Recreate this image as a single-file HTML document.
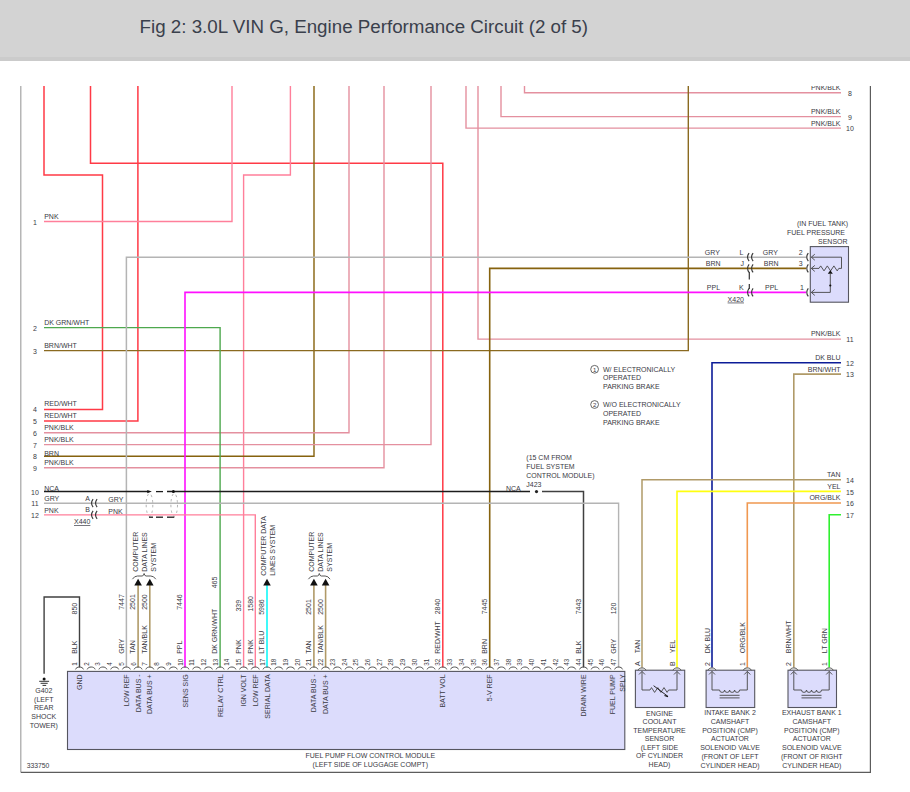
<!DOCTYPE html>
<html><head><meta charset="utf-8"><style>
html,body{margin:0;padding:0;background:#fff;width:910px;height:792px;overflow:hidden}
#hdr{position:absolute;left:0;top:0;width:910px;height:61px;background:linear-gradient(#d3d3d3 0,#d3d3d3 57.3px,#cbcbcb 57.3px,#cbcbcb 61px);z-index:2}
#ttl{position:absolute;left:139.6px;top:15.5px;font-family:"Liberation Sans",sans-serif;font-size:18.76px;color:#3a404c;white-space:nowrap}
svg{position:absolute;left:0;top:0}
svg text{font-family:"Liberation Sans",sans-serif}
</style></head><body>
<div id="hdr"><div id="ttl">Fig 2: 3.0L VIN G, Engine Performance Circuit (2 of 5)</div></div>
<svg width="910" height="792" viewBox="0 0 910 792">
<polyline points="20.8,85.5 20.8,772.3" fill="none" stroke="#a4a4a4" stroke-width="1.2" />
<polyline points="20.8,772.3 870.4,772.3 870.4,85.5" fill="none" stroke="#5c5c5c" stroke-width="1.2" />
<polyline points="44.0,85.5 44.0,175.0 102.5,175.0 102.5,409.4 44.0,409.4" fill="none" stroke="#ff3a46" stroke-width="1.5" />
<polyline points="90.5,85.5 90.5,163.3 442.8,163.3 442.8,667.5" fill="none" stroke="#ff3a46" stroke-width="1.5" />
<polyline points="137.9,85.5 137.9,421.0 44.0,421.0" fill="none" stroke="#ff3a46" stroke-width="1.5" />
<polyline points="232.0,85.5 232.0,221.5 44.0,221.5" fill="none" stroke="#ff7f9a" stroke-width="1.4" />
<polyline points="290.4,85.5 290.4,175.0 243.6,175.0 243.6,667.5" fill="none" stroke="#ff7f9a" stroke-width="1.4" />
<polyline points="314.0,85.5 314.0,456.3 44.0,456.3" fill="none" stroke="#86620e" stroke-width="1.4" />
<polyline points="349.0,85.5 349.0,432.7 44.0,432.7" fill="none" stroke="#e4909f" stroke-width="1.4" />
<polyline points="384.0,85.5 384.0,467.8 44.0,467.8" fill="none" stroke="#e4909f" stroke-width="1.4" />
<polyline points="431.0,85.5 431.0,444.6 44.0,444.6" fill="none" stroke="#e4909f" stroke-width="1.4" />
<polyline points="466.0,85.5 466.0,128.1 841.0,128.1" fill="none" stroke="#e4909f" stroke-width="1.4" />
<polyline points="478.0,85.5 478.0,339.1 841.0,339.1" fill="none" stroke="#e4909f" stroke-width="1.4" />
<polyline points="501.0,85.5 501.0,116.6 841.0,116.6" fill="none" stroke="#e4909f" stroke-width="1.4" />
<polyline points="524.5,85.5 524.5,92.8 841.0,92.8" fill="none" stroke="#e4909f" stroke-width="1.4" />
<polyline points="688.3,85.5 688.3,350.6 44.0,350.6" fill="none" stroke="#8a6a20" stroke-width="1.4" />
<polyline points="44.0,327.6 220.1,327.6 220.1,667.5" fill="none" stroke="#4ea84e" stroke-width="1.4" />
<polyline points="806.0,257.2 126.4,257.2 126.4,667.5" fill="none" stroke="#b4b4b4" stroke-width="1.5" />
<polyline points="806.0,268.4 489.7,268.4 489.7,667.5" fill="none" stroke="#86620e" stroke-width="1.6" />
<polyline points="806.0,292.4 185.0,292.4 185.0,667.5" fill="none" stroke="#ff10ff" stroke-width="1.6" />
<polyline points="841.0,362.7 712.0,362.7 712.0,667.5" fill="none" stroke="#0c1c98" stroke-width="1.6" />
<polyline points="841.0,374.1 793.8,374.1 793.8,667.5" fill="none" stroke="#b09a68" stroke-width="1.6" />
<polyline points="841.0,479.8 642.0,479.8 642.0,667.5" fill="none" stroke="#b09a68" stroke-width="1.5" />
<polyline points="841.0,491.4 677.0,491.4 677.0,667.5" fill="none" stroke="#ffff10" stroke-width="1.6" />
<polyline points="841.0,503.0 747.3,503.0 747.3,667.5" fill="none" stroke="#f09850" stroke-width="1.6" />
<polyline points="841.0,514.7 829.2,514.7 829.2,667.5" fill="none" stroke="#30f030" stroke-width="1.6" />
<polyline points="44.0,491.6 148.0,491.6" fill="none" stroke="#1c1c1c" stroke-width="1.5" />
<polyline points="167.0,491.6 530.0,491.6" fill="none" stroke="#1c1c1c" stroke-width="1.5" />
<polyline points="542.0,491.6 583.5,491.6 583.5,667.5" fill="none" stroke="#404040" stroke-width="1.5" />
<circle cx="536.5" cy="491.6" r="1.6" fill="#222"/>
<polyline points="44.0,503.2 618.6,503.2 618.6,667.5" fill="none" stroke="#b4b4b4" stroke-width="1.4" />
<polyline points="44.0,514.9 255.3,514.9 255.3,667.5" fill="none" stroke="#ff7f9a" stroke-width="1.4" />
<polyline points="138.1,584.0 138.1,667.5" fill="none" stroke="#b09a68" stroke-width="1.6" />
<polyline points="149.8,584.0 149.8,667.5" fill="none" stroke="#b09a68" stroke-width="1.6" />
<polyline points="313.9,584.0 313.9,667.5" fill="none" stroke="#b09a68" stroke-width="1.6" />
<polyline points="325.6,584.0 325.6,667.5" fill="none" stroke="#b09a68" stroke-width="1.6" />
<polyline points="267.0,584.0 267.0,667.5" fill="none" stroke="#10f8f8" stroke-width="1.6" />
<polyline points="44.1,673.7 44.1,597.0 79.5,597.0 79.5,667.5" fill="none" stroke="#404040" stroke-width="1.4" />
<text x="44.2" y="219.2" font-size="7" fill="#3a3a44" text-anchor="start" >PNK</text>
<text x="35.0" y="224.7" font-size="7" fill="#3a3a44" text-anchor="middle" >1</text>
<text x="44.2" y="325.3" font-size="7" fill="#3a3a44" text-anchor="start" >DK GRN/WHT</text>
<text x="35.0" y="330.8" font-size="7" fill="#3a3a44" text-anchor="middle" >2</text>
<text x="44.2" y="348.3" font-size="7" fill="#3a3a44" text-anchor="start" >BRN/WHT</text>
<text x="35.0" y="353.8" font-size="7" fill="#3a3a44" text-anchor="middle" >3</text>
<text x="44.2" y="405.8" font-size="7" fill="#3a3a44" text-anchor="start" >RED/WHT</text>
<text x="35.0" y="412.4" font-size="7" fill="#3a3a44" text-anchor="middle" >4</text>
<text x="44.2" y="417.7" font-size="7" fill="#3a3a44" text-anchor="start" >RED/WHT</text>
<text x="35.0" y="424.2" font-size="7" fill="#3a3a44" text-anchor="middle" >5</text>
<text x="44.2" y="430.4" font-size="7" fill="#3a3a44" text-anchor="start" >PNK/BLK</text>
<text x="35.0" y="435.9" font-size="7" fill="#3a3a44" text-anchor="middle" >6</text>
<text x="44.2" y="442.3" font-size="7" fill="#3a3a44" text-anchor="start" >PNK/BLK</text>
<text x="35.0" y="447.8" font-size="7" fill="#3a3a44" text-anchor="middle" >7</text>
<text x="44.2" y="455.5" font-size="7" fill="#3a3a44" text-anchor="start" >BRN</text>
<text x="35.0" y="458.6" font-size="7" fill="#3a3a44" text-anchor="middle" >8</text>
<text x="44.2" y="464.8" font-size="7" fill="#3a3a44" text-anchor="start" >PNK/BLK</text>
<text x="35.0" y="470.7" font-size="7" fill="#3a3a44" text-anchor="middle" >9</text>
<text x="44.2" y="490.6" font-size="7" fill="#3a3a44" text-anchor="start" >NCA</text>
<text x="35.0" y="494.7" font-size="7" fill="#3a3a44" text-anchor="middle" >10</text>
<text x="44.2" y="500.9" font-size="7" fill="#3a3a44" text-anchor="start" >GRY</text>
<text x="35.0" y="506.4" font-size="7" fill="#3a3a44" text-anchor="middle" >11</text>
<text x="44.2" y="512.6" font-size="7" fill="#3a3a44" text-anchor="start" >PNK</text>
<text x="35.0" y="518.1" font-size="7" fill="#3a3a44" text-anchor="middle" >12</text>
<text x="840.5" y="89.7" font-size="7" fill="#3a3a44" text-anchor="end" >PNK/BLK</text>
<text x="850.0" y="96.0" font-size="7" fill="#3a3a44" text-anchor="middle" >8</text>
<text x="840.5" y="114.3" font-size="7" fill="#3a3a44" text-anchor="end" >PNK/BLK</text>
<text x="850.0" y="119.8" font-size="7" fill="#3a3a44" text-anchor="middle" >9</text>
<text x="840.5" y="125.5" font-size="7" fill="#3a3a44" text-anchor="end" >PNK/BLK</text>
<text x="850.0" y="131.0" font-size="7" fill="#3a3a44" text-anchor="middle" >10</text>
<text x="840.5" y="335.8" font-size="7" fill="#3a3a44" text-anchor="end" >PNK/BLK</text>
<text x="850.0" y="342.0" font-size="7" fill="#3a3a44" text-anchor="middle" >11</text>
<text x="840.5" y="360.4" font-size="7" fill="#3a3a44" text-anchor="end" >DK BLU</text>
<text x="850.0" y="365.9" font-size="7" fill="#3a3a44" text-anchor="middle" >12</text>
<text x="840.5" y="371.8" font-size="7" fill="#3a3a44" text-anchor="end" >BRN/WHT</text>
<text x="850.0" y="377.3" font-size="7" fill="#3a3a44" text-anchor="middle" >13</text>
<text x="840.5" y="476.7" font-size="7" fill="#3a3a44" text-anchor="end" >TAN</text>
<text x="850.0" y="483.0" font-size="7" fill="#3a3a44" text-anchor="middle" >14</text>
<text x="840.5" y="489.1" font-size="7" fill="#3a3a44" text-anchor="end" >YEL</text>
<text x="850.0" y="494.6" font-size="7" fill="#3a3a44" text-anchor="middle" >15</text>
<text x="840.5" y="499.7" font-size="7" fill="#3a3a44" text-anchor="end" >ORG/BLK</text>
<text x="850.0" y="505.6" font-size="7" fill="#3a3a44" text-anchor="middle" >16</text>
<text x="850.0" y="517.9" font-size="7" fill="#3a3a44" text-anchor="middle" >17</text>
<path d="M93.1,499.2 Q90.0,503.2 93.1,507.2" fill="none" stroke="#383838" stroke-width="1.15"/>
<path d="M97.1,499.2 Q94.0,503.2 97.1,507.2" fill="none" stroke="#383838" stroke-width="1.15"/>
<path d="M93.1,510.8 Q90.0,514.8 93.1,518.8" fill="none" stroke="#383838" stroke-width="1.15"/>
<path d="M97.1,510.8 Q94.0,514.8 97.1,518.8" fill="none" stroke="#383838" stroke-width="1.15"/>
<text x="85.2" y="501.0" font-size="7" fill="#3a3a44" text-anchor="start" >A</text>
<text x="85.2" y="511.8" font-size="7" fill="#3a3a44" text-anchor="start" >B</text>
<text x="108.3" y="502.0" font-size="7" fill="#3a3a44" text-anchor="start" >GRY</text>
<text x="108.3" y="514.0" font-size="7" fill="#3a3a44" text-anchor="start" >PNK</text>
<text x="74.0" y="524.0" font-size="7" fill="#3a3a44" text-anchor="start" text-decoration="underline">X440</text>
<ellipse cx="149.5" cy="504.9" rx="3.3" ry="11.4" fill="none" stroke="#a8a8a8" stroke-width="0.9" stroke-dasharray="2.4,3.2"/>
<ellipse cx="174.2" cy="504.9" rx="3.3" ry="11.4" fill="none" stroke="#a8a8a8" stroke-width="0.9" stroke-dasharray="2.4,3.2"/>
<path d="M147.3,490 L151.8,491.6 L147.3,493.2 Z" fill="#111"/>
<line x1="156" y1="491.6" x2="163" y2="491.6" stroke="#1c1c1c" stroke-width="1.3"/>
<circle cx="173.4" cy="491.6" r="1.5" fill="#111"/>
<line x1="149" y1="517.2" x2="153" y2="517.2" stroke="#1c1c1c" stroke-width="1.3"/>
<line x1="156" y1="517.2" x2="163" y2="517.2" stroke="#1c1c1c" stroke-width="1.3"/>
<line x1="167" y1="517.2" x2="174.3" y2="517.2" stroke="#1c1c1c" stroke-width="1.3"/>
<path d="M749.1,253.2 Q746.0,257.2 749.1,261.2" fill="none" stroke="#383838" stroke-width="1.15"/>
<path d="M753.1,253.2 Q750.0,257.2 753.1,261.2" fill="none" stroke="#383838" stroke-width="1.15"/>
<path d="M808.3,253.2 Q805.2,257.2 808.3,261.2" fill="none" stroke="#383838" stroke-width="1.15"/>
<path d="M749.1,264.4 Q746.0,268.4 749.1,272.4" fill="none" stroke="#383838" stroke-width="1.15"/>
<path d="M753.1,264.4 Q750.0,268.4 753.1,272.4" fill="none" stroke="#383838" stroke-width="1.15"/>
<path d="M808.3,264.4 Q805.2,268.4 808.3,272.4" fill="none" stroke="#383838" stroke-width="1.15"/>
<path d="M749.1,288.4 Q746.0,292.4 749.1,296.4" fill="none" stroke="#383838" stroke-width="1.15"/>
<path d="M753.1,288.4 Q750.0,292.4 753.1,296.4" fill="none" stroke="#383838" stroke-width="1.15"/>
<path d="M808.3,288.4 Q805.2,292.4 808.3,296.4" fill="none" stroke="#383838" stroke-width="1.15"/>
<line x1="749.3" y1="272" x2="749.3" y2="279.5" stroke="#333" stroke-width="1.2"/><line x1="749.3" y1="284" x2="749.3" y2="289" stroke="#333" stroke-width="1.2"/>
<text x="704.8" y="254.6" font-size="7" fill="#3a3a44" text-anchor="start" >GRY</text>
<text x="739.5" y="254.6" font-size="7" fill="#3a3a44" text-anchor="start" >L</text>
<text x="762.8" y="254.6" font-size="7" fill="#3a3a44" text-anchor="start" >GRY</text>
<text x="798.8" y="254.6" font-size="7" fill="#3a3a44" text-anchor="start" >2</text>
<text x="705.8" y="266.0" font-size="7" fill="#3a3a44" text-anchor="start" >BRN</text>
<text x="740.4" y="266.0" font-size="7" fill="#3a3a44" text-anchor="start" >J</text>
<text x="763.8" y="266.0" font-size="7" fill="#3a3a44" text-anchor="start" >BRN</text>
<text x="798.8" y="266.0" font-size="7" fill="#3a3a44" text-anchor="start" >3</text>
<text x="706.8" y="289.6" font-size="7" fill="#3a3a44" text-anchor="start" >PPL</text>
<text x="739.0" y="289.6" font-size="7" fill="#3a3a44" text-anchor="start" >K</text>
<text x="765.0" y="289.6" font-size="7" fill="#3a3a44" text-anchor="start" >PPL</text>
<text x="800.0" y="289.6" font-size="7" fill="#3a3a44" text-anchor="start" >1</text>
<text x="727.6" y="301.6" font-size="7" fill="#3a3a44" text-anchor="start" text-decoration="underline">X420</text>
<text x="848.2" y="225.8" font-size="7" fill="#3a3a44" text-anchor="end" >(IN FUEL TANK)</text>
<text x="845.0" y="234.7" font-size="7" fill="#3a3a44" text-anchor="end" >FUEL PRESSURE</text>
<text x="847.6" y="243.6" font-size="7" fill="#3a3a44" text-anchor="end" >SENSOR</text>
<rect x="810.3" y="246.6" width="38.2" height="55.6" fill="#dcdcfc" stroke="#55555f" stroke-width="1.1"/>
<path d="M814.8,254.2 L811.3,257.2 L814.8,260.2" fill="none" stroke="#454545" stroke-width="0.9"/>
<path d="M814.8,265.4 L811.3,268.4 L814.8,271.4" fill="none" stroke="#454545" stroke-width="0.9"/>
<path d="M814.8,289.4 L811.3,292.4 L814.8,295.4" fill="none" stroke="#454545" stroke-width="0.9"/>
<polyline points="811.3,257.2 841.5,257.2 841.5,268.4 839.0,268.4" fill="none" stroke="#454545" stroke-width="0.9" />
<polyline points="811.3,268.4 819.0,268.4 820.7,265.9 824.0,270.9 827.3,265.9 830.6,270.9 833.9,265.9 837.2,270.9 838.8,268.4 839.0,268.4" fill="none" stroke="#454545" stroke-width="0.9" />
<path d="M830.3,270.3 L827.8,273.8 L832.8,273.8 Z" fill="#111"/>
<polyline points="830.3,273.6 830.3,292.4 811.3,292.4" fill="none" stroke="#454545" stroke-width="0.9" />
<circle cx="830.3" cy="285.5" r="1.1" fill="#111"/>
<circle cx="594.6" cy="369.3" r="3.9" fill="none" stroke="#444" stroke-width="0.8"/>
<text x="594.6" y="371.6" font-size="6" fill="#3a3a44" text-anchor="middle" >1</text>
<circle cx="594.6" cy="404.5" r="3.9" fill="none" stroke="#444" stroke-width="0.8"/>
<text x="594.6" y="406.8" font-size="6" fill="#3a3a44" text-anchor="middle" >2</text>
<text x="603.0" y="372.0" font-size="7" fill="#3a3a44" text-anchor="start" >W/ ELECTRONICALLY</text>
<text x="603.0" y="380.3" font-size="7" fill="#3a3a44" text-anchor="start" >OPERATED</text>
<text x="603.0" y="388.8" font-size="7" fill="#3a3a44" text-anchor="start" >PARKING BRAKE</text>
<text x="603.0" y="407.3" font-size="7" fill="#3a3a44" text-anchor="start" >W/O ELECTRONICALLY</text>
<text x="603.0" y="416.0" font-size="7" fill="#3a3a44" text-anchor="start" >OPERATED</text>
<text x="603.0" y="424.6" font-size="7" fill="#3a3a44" text-anchor="start" >PARKING BRAKE</text>
<text x="526.3" y="459.5" font-size="7" fill="#3a3a44" text-anchor="start" >(15 CM FROM</text>
<text x="526.3" y="468.9" font-size="7" fill="#3a3a44" text-anchor="start" >FUEL SYSTEM</text>
<text x="526.3" y="478.2" font-size="7" fill="#3a3a44" text-anchor="start" >CONTROL MODULE)</text>
<text x="526.3" y="487.2" font-size="7" fill="#3a3a44" text-anchor="start" >J423</text>
<text x="506.0" y="491.2" font-size="7" fill="#3a3a44" text-anchor="start" >NCA</text>
<path d="M138.1,578.8 L134.3,585.4 L141.9,585.4 Z" fill="#111"/>
<path d="M149.8,578.8 L146.0,585.4 L153.6,585.4 Z" fill="#111"/>
<path d="M267.0,578.8 L263.2,585.4 L270.8,585.4 Z" fill="#111"/>
<path d="M313.9,578.8 L310.1,585.4 L317.7,585.4 Z" fill="#111"/>
<path d="M325.6,578.8 L321.8,585.4 L329.4,585.4 Z" fill="#111"/>
<path d="M132.4,579.2 Q134.4,576 137.4,576 L142.1,576 Q143.6,576 144.1,573.5 Q144.6,576 146.1,576 L150.8,576 Q153.8,576 155.8,579.2" fill="none" stroke="#444" stroke-width="0.9"/>
<path d="M308.4,579.2 Q310.4,576 313.4,576 L317.3,576 Q318.8,576 319.3,573.5 Q319.8,576 321.3,576 L325.1,576 Q328.1,576 330.1,579.2" fill="none" stroke="#444" stroke-width="0.9"/>
<text x="138.1" y="571.7" font-size="7" fill="#3a3a44" text-anchor="start" transform="rotate(-90 138.1 571.7)">COMPUTER</text>
<text x="147.0" y="571.7" font-size="7" fill="#3a3a44" text-anchor="start" transform="rotate(-90 147.0 571.7)">DATA LINES</text>
<text x="156.3" y="571.7" font-size="7" fill="#3a3a44" text-anchor="start" transform="rotate(-90 156.3 571.7)">SYSTEM</text>
<text x="314.4" y="571.7" font-size="7" fill="#3a3a44" text-anchor="start" transform="rotate(-90 314.4 571.7)">COMPUTER</text>
<text x="323.3" y="571.7" font-size="7" fill="#3a3a44" text-anchor="start" transform="rotate(-90 323.3 571.7)">DATA LINES</text>
<text x="331.7" y="571.7" font-size="7" fill="#3a3a44" text-anchor="start" transform="rotate(-90 331.7 571.7)">SYSTEM</text>
<text x="265.8" y="575.8" font-size="7" fill="#3a3a44" text-anchor="start" transform="rotate(-90 265.8 575.8)">COMPUTER DATA</text>
<text x="275.3" y="575.8" font-size="7" fill="#3a3a44" text-anchor="start" transform="rotate(-90 275.3 575.8)">LINES SYSTEM</text>
<text x="76.9" y="653.8" font-size="7" fill="#3a3a44" text-anchor="start" transform="rotate(-90 76.9 653.8)">BLK</text>
<text x="76.9" y="614.5" font-size="7" fill="#3a3a44" text-anchor="start" transform="rotate(-90 76.9 614.5)">850</text>
<text x="123.8" y="653.8" font-size="7" fill="#3a3a44" text-anchor="start" transform="rotate(-90 123.8 653.8)">GRY</text>
<text x="123.8" y="609.8" font-size="7" fill="#3a3a44" text-anchor="start" transform="rotate(-90 123.8 609.8)">7447</text>
<text x="135.5" y="653.8" font-size="7" fill="#3a3a44" text-anchor="start" transform="rotate(-90 135.5 653.8)">TAN</text>
<text x="135.5" y="609.8" font-size="7" fill="#3a3a44" text-anchor="start" transform="rotate(-90 135.5 609.8)">2501</text>
<text x="147.2" y="653.8" font-size="7" fill="#3a3a44" text-anchor="start" transform="rotate(-90 147.2 653.8)">TAN/BLK</text>
<text x="147.2" y="609.8" font-size="7" fill="#3a3a44" text-anchor="start" transform="rotate(-90 147.2 609.8)">2500</text>
<text x="182.4" y="653.8" font-size="7" fill="#3a3a44" text-anchor="start" transform="rotate(-90 182.4 653.8)">PPL</text>
<text x="182.4" y="609.8" font-size="7" fill="#3a3a44" text-anchor="start" transform="rotate(-90 182.4 609.8)">7446</text>
<text x="217.5" y="653.8" font-size="7" fill="#3a3a44" text-anchor="start" transform="rotate(-90 217.5 653.8)">DK GRN/WHT</text>
<text x="217.5" y="588.3" font-size="7" fill="#3a3a44" text-anchor="start" transform="rotate(-90 217.5 588.3)">465</text>
<text x="241.0" y="653.8" font-size="7" fill="#3a3a44" text-anchor="start" transform="rotate(-90 241.0 653.8)">PNK</text>
<text x="241.0" y="611.6" font-size="7" fill="#3a3a44" text-anchor="start" transform="rotate(-90 241.0 611.6)">339</text>
<text x="252.7" y="653.8" font-size="7" fill="#3a3a44" text-anchor="start" transform="rotate(-90 252.7 653.8)">PNK</text>
<text x="252.7" y="611.6" font-size="7" fill="#3a3a44" text-anchor="start" transform="rotate(-90 252.7 611.6)">1580</text>
<text x="264.4" y="653.8" font-size="7" fill="#3a3a44" text-anchor="start" transform="rotate(-90 264.4 653.8)">LT BLU</text>
<text x="264.4" y="614.8" font-size="7" fill="#3a3a44" text-anchor="start" transform="rotate(-90 264.4 614.8)">5986</text>
<text x="311.3" y="653.8" font-size="7" fill="#3a3a44" text-anchor="start" transform="rotate(-90 311.3 653.8)">TAN</text>
<text x="311.3" y="614.8" font-size="7" fill="#3a3a44" text-anchor="start" transform="rotate(-90 311.3 614.8)">2501</text>
<text x="323.0" y="653.8" font-size="7" fill="#3a3a44" text-anchor="start" transform="rotate(-90 323.0 653.8)">TAN/BLK</text>
<text x="323.0" y="614.8" font-size="7" fill="#3a3a44" text-anchor="start" transform="rotate(-90 323.0 614.8)">2500</text>
<text x="440.2" y="653.8" font-size="7" fill="#3a3a44" text-anchor="start" transform="rotate(-90 440.2 653.8)">RED/WHT</text>
<text x="440.2" y="614.3" font-size="7" fill="#3a3a44" text-anchor="start" transform="rotate(-90 440.2 614.3)">2840</text>
<text x="487.1" y="653.8" font-size="7" fill="#3a3a44" text-anchor="start" transform="rotate(-90 487.1 653.8)">BRN</text>
<text x="487.1" y="614.3" font-size="7" fill="#3a3a44" text-anchor="start" transform="rotate(-90 487.1 614.3)">7445</text>
<text x="580.9" y="653.8" font-size="7" fill="#3a3a44" text-anchor="start" transform="rotate(-90 580.9 653.8)">BLK</text>
<text x="580.9" y="614.3" font-size="7" fill="#3a3a44" text-anchor="start" transform="rotate(-90 580.9 614.3)">7443</text>
<text x="616.0" y="653.8" font-size="7" fill="#3a3a44" text-anchor="start" transform="rotate(-90 616.0 653.8)">GRY</text>
<text x="616.0" y="614.3" font-size="7" fill="#3a3a44" text-anchor="start" transform="rotate(-90 616.0 614.3)">120</text>
<rect x="67.5" y="671.4" width="557.3" height="78.1" fill="#dcdcfc" stroke="#55555f" stroke-width="1.1"/>
<text x="82.1" y="674.4" font-size="7" fill="#3a3a44" text-anchor="end" transform="rotate(-90 82.1 674.4)">GND</text>
<text x="129.0" y="674.4" font-size="7" fill="#3a3a44" text-anchor="end" transform="rotate(-90 129.0 674.4)">LOW REF</text>
<text x="140.7" y="674.4" font-size="7" fill="#3a3a44" text-anchor="end" transform="rotate(-90 140.7 674.4)">DATA BUS -</text>
<text x="152.4" y="674.4" font-size="7" fill="#3a3a44" text-anchor="end" transform="rotate(-90 152.4 674.4)">DATA BUS +</text>
<text x="187.6" y="674.4" font-size="7" fill="#3a3a44" text-anchor="end" transform="rotate(-90 187.6 674.4)">SENS SIG</text>
<text x="222.7" y="674.4" font-size="7" fill="#3a3a44" text-anchor="end" transform="rotate(-90 222.7 674.4)">RELAY CTRL</text>
<text x="246.2" y="674.4" font-size="7" fill="#3a3a44" text-anchor="end" transform="rotate(-90 246.2 674.4)">IGN VOLT</text>
<text x="257.9" y="674.4" font-size="7" fill="#3a3a44" text-anchor="end" transform="rotate(-90 257.9 674.4)">LOW REF</text>
<text x="269.6" y="674.4" font-size="7" fill="#3a3a44" text-anchor="end" transform="rotate(-90 269.6 674.4)">SERIAL DATA</text>
<text x="316.5" y="674.4" font-size="7" fill="#3a3a44" text-anchor="end" transform="rotate(-90 316.5 674.4)">DATA BUS -</text>
<text x="328.2" y="674.4" font-size="7" fill="#3a3a44" text-anchor="end" transform="rotate(-90 328.2 674.4)">DATA BUS +</text>
<text x="445.4" y="674.4" font-size="7" fill="#3a3a44" text-anchor="end" transform="rotate(-90 445.4 674.4)">BATT VOL</text>
<text x="492.3" y="674.4" font-size="7" fill="#3a3a44" text-anchor="end" transform="rotate(-90 492.3 674.4)">5-V REF</text>
<text x="586.1" y="674.4" font-size="7" fill="#3a3a44" text-anchor="end" transform="rotate(-90 586.1 674.4)">DRAIN WIRE</text>
<text x="615.1" y="674.4" font-size="7" fill="#3a3a44" text-anchor="end" transform="rotate(-90 615.1 674.4)">FUEL PUMP</text>
<text x="624.8" y="674.4" font-size="7" fill="#3a3a44" text-anchor="end" transform="rotate(-90 624.8 674.4)">SPLY</text>
<path d="M75.5,669.4 C76.5,666.2 82.5,666.2 83.5,669.4" fill="none" stroke="#505050" stroke-width="1"/>
<text x="77.1" y="665.8" font-size="6.3" fill="#3a3a44" text-anchor="start" transform="rotate(-90 77.1 665.8)">1</text>
<path d="M87.2,669.4 C88.2,666.2 94.2,666.2 95.2,669.4" fill="none" stroke="#505050" stroke-width="1"/>
<text x="88.8" y="665.8" font-size="6.3" fill="#3a3a44" text-anchor="start" transform="rotate(-90 88.8 665.8)">2</text>
<path d="M98.9,669.4 C99.9,666.2 105.9,666.2 106.9,669.4" fill="none" stroke="#505050" stroke-width="1"/>
<text x="100.5" y="665.8" font-size="6.3" fill="#3a3a44" text-anchor="start" transform="rotate(-90 100.5 665.8)">3</text>
<path d="M110.7,669.4 C111.7,666.2 117.7,666.2 118.7,669.4" fill="none" stroke="#505050" stroke-width="1"/>
<text x="112.3" y="665.8" font-size="6.3" fill="#3a3a44" text-anchor="start" transform="rotate(-90 112.3 665.8)">4</text>
<path d="M122.4,669.4 C123.4,666.2 129.4,666.2 130.4,669.4" fill="none" stroke="#505050" stroke-width="1"/>
<text x="124.0" y="665.8" font-size="6.3" fill="#3a3a44" text-anchor="start" transform="rotate(-90 124.0 665.8)">5</text>
<path d="M134.1,669.4 C135.1,666.2 141.1,666.2 142.1,669.4" fill="none" stroke="#505050" stroke-width="1"/>
<text x="135.7" y="665.8" font-size="6.3" fill="#3a3a44" text-anchor="start" transform="rotate(-90 135.7 665.8)">6</text>
<path d="M145.8,669.4 C146.8,666.2 152.8,666.2 153.8,669.4" fill="none" stroke="#505050" stroke-width="1"/>
<text x="147.4" y="665.8" font-size="6.3" fill="#3a3a44" text-anchor="start" transform="rotate(-90 147.4 665.8)">7</text>
<path d="M157.5,669.4 C158.5,666.2 164.5,666.2 165.5,669.4" fill="none" stroke="#505050" stroke-width="1"/>
<text x="159.1" y="665.8" font-size="6.3" fill="#3a3a44" text-anchor="start" transform="rotate(-90 159.1 665.8)">8</text>
<path d="M169.3,669.4 C170.3,666.2 176.3,666.2 177.3,669.4" fill="none" stroke="#505050" stroke-width="1"/>
<text x="170.9" y="665.8" font-size="6.3" fill="#3a3a44" text-anchor="start" transform="rotate(-90 170.9 665.8)">9</text>
<path d="M181.0,669.4 C182.0,666.2 188.0,666.2 189.0,669.4" fill="none" stroke="#505050" stroke-width="1"/>
<text x="182.6" y="665.8" font-size="6.3" fill="#3a3a44" text-anchor="start" transform="rotate(-90 182.6 665.8)">10</text>
<path d="M192.7,669.4 C193.7,666.2 199.7,666.2 200.7,669.4" fill="none" stroke="#505050" stroke-width="1"/>
<text x="194.3" y="665.8" font-size="6.3" fill="#3a3a44" text-anchor="start" transform="rotate(-90 194.3 665.8)">11</text>
<path d="M204.4,669.4 C205.4,666.2 211.4,666.2 212.4,669.4" fill="none" stroke="#505050" stroke-width="1"/>
<text x="206.0" y="665.8" font-size="6.3" fill="#3a3a44" text-anchor="start" transform="rotate(-90 206.0 665.8)">12</text>
<path d="M216.1,669.4 C217.1,666.2 223.1,666.2 224.1,669.4" fill="none" stroke="#505050" stroke-width="1"/>
<text x="217.7" y="665.8" font-size="6.3" fill="#3a3a44" text-anchor="start" transform="rotate(-90 217.7 665.8)">13</text>
<path d="M227.9,669.4 C228.9,666.2 234.9,666.2 235.9,669.4" fill="none" stroke="#505050" stroke-width="1"/>
<text x="229.5" y="665.8" font-size="6.3" fill="#3a3a44" text-anchor="start" transform="rotate(-90 229.5 665.8)">14</text>
<path d="M239.6,669.4 C240.6,666.2 246.6,666.2 247.6,669.4" fill="none" stroke="#505050" stroke-width="1"/>
<text x="241.2" y="665.8" font-size="6.3" fill="#3a3a44" text-anchor="start" transform="rotate(-90 241.2 665.8)">15</text>
<path d="M251.3,669.4 C252.3,666.2 258.3,666.2 259.3,669.4" fill="none" stroke="#505050" stroke-width="1"/>
<text x="252.9" y="665.8" font-size="6.3" fill="#3a3a44" text-anchor="start" transform="rotate(-90 252.9 665.8)">16</text>
<path d="M263.0,669.4 C264.0,666.2 270.0,666.2 271.0,669.4" fill="none" stroke="#505050" stroke-width="1"/>
<text x="264.6" y="665.8" font-size="6.3" fill="#3a3a44" text-anchor="start" transform="rotate(-90 264.6 665.8)">17</text>
<path d="M274.7,669.4 C275.7,666.2 281.7,666.2 282.7,669.4" fill="none" stroke="#505050" stroke-width="1"/>
<text x="276.3" y="665.8" font-size="6.3" fill="#3a3a44" text-anchor="start" transform="rotate(-90 276.3 665.8)">18</text>
<path d="M286.5,669.4 C287.5,666.2 293.5,666.2 294.5,669.4" fill="none" stroke="#505050" stroke-width="1"/>
<text x="288.1" y="665.8" font-size="6.3" fill="#3a3a44" text-anchor="start" transform="rotate(-90 288.1 665.8)">19</text>
<path d="M298.2,669.4 C299.2,666.2 305.2,666.2 306.2,669.4" fill="none" stroke="#505050" stroke-width="1"/>
<text x="299.8" y="665.8" font-size="6.3" fill="#3a3a44" text-anchor="start" transform="rotate(-90 299.8 665.8)">20</text>
<path d="M309.9,669.4 C310.9,666.2 316.9,666.2 317.9,669.4" fill="none" stroke="#505050" stroke-width="1"/>
<text x="311.5" y="665.8" font-size="6.3" fill="#3a3a44" text-anchor="start" transform="rotate(-90 311.5 665.8)">21</text>
<path d="M321.6,669.4 C322.6,666.2 328.6,666.2 329.6,669.4" fill="none" stroke="#505050" stroke-width="1"/>
<text x="323.2" y="665.8" font-size="6.3" fill="#3a3a44" text-anchor="start" transform="rotate(-90 323.2 665.8)">22</text>
<path d="M333.3,669.4 C334.3,666.2 340.3,666.2 341.3,669.4" fill="none" stroke="#505050" stroke-width="1"/>
<text x="334.9" y="665.8" font-size="6.3" fill="#3a3a44" text-anchor="start" transform="rotate(-90 334.9 665.8)">23</text>
<path d="M345.1,669.4 C346.1,666.2 352.1,666.2 353.1,669.4" fill="none" stroke="#505050" stroke-width="1"/>
<text x="346.7" y="665.8" font-size="6.3" fill="#3a3a44" text-anchor="start" transform="rotate(-90 346.7 665.8)">24</text>
<path d="M356.8,669.4 C357.8,666.2 363.8,666.2 364.8,669.4" fill="none" stroke="#505050" stroke-width="1"/>
<text x="358.4" y="665.8" font-size="6.3" fill="#3a3a44" text-anchor="start" transform="rotate(-90 358.4 665.8)">25</text>
<path d="M368.5,669.4 C369.5,666.2 375.5,666.2 376.5,669.4" fill="none" stroke="#505050" stroke-width="1"/>
<text x="370.1" y="665.8" font-size="6.3" fill="#3a3a44" text-anchor="start" transform="rotate(-90 370.1 665.8)">26</text>
<path d="M380.2,669.4 C381.2,666.2 387.2,666.2 388.2,669.4" fill="none" stroke="#505050" stroke-width="1"/>
<text x="381.8" y="665.8" font-size="6.3" fill="#3a3a44" text-anchor="start" transform="rotate(-90 381.8 665.8)">27</text>
<path d="M391.9,669.4 C392.9,666.2 398.9,666.2 399.9,669.4" fill="none" stroke="#505050" stroke-width="1"/>
<text x="393.5" y="665.8" font-size="6.3" fill="#3a3a44" text-anchor="start" transform="rotate(-90 393.5 665.8)">28</text>
<path d="M403.7,669.4 C404.7,666.2 410.7,666.2 411.7,669.4" fill="none" stroke="#505050" stroke-width="1"/>
<text x="405.3" y="665.8" font-size="6.3" fill="#3a3a44" text-anchor="start" transform="rotate(-90 405.3 665.8)">29</text>
<path d="M415.4,669.4 C416.4,666.2 422.4,666.2 423.4,669.4" fill="none" stroke="#505050" stroke-width="1"/>
<text x="417.0" y="665.8" font-size="6.3" fill="#3a3a44" text-anchor="start" transform="rotate(-90 417.0 665.8)">30</text>
<path d="M427.1,669.4 C428.1,666.2 434.1,666.2 435.1,669.4" fill="none" stroke="#505050" stroke-width="1"/>
<text x="428.7" y="665.8" font-size="6.3" fill="#3a3a44" text-anchor="start" transform="rotate(-90 428.7 665.8)">31</text>
<path d="M438.8,669.4 C439.8,666.2 445.8,666.2 446.8,669.4" fill="none" stroke="#505050" stroke-width="1"/>
<text x="440.4" y="665.8" font-size="6.3" fill="#3a3a44" text-anchor="start" transform="rotate(-90 440.4 665.8)">32</text>
<path d="M450.5,669.4 C451.5,666.2 457.5,666.2 458.5,669.4" fill="none" stroke="#505050" stroke-width="1"/>
<text x="452.1" y="665.8" font-size="6.3" fill="#3a3a44" text-anchor="start" transform="rotate(-90 452.1 665.8)">33</text>
<path d="M462.3,669.4 C463.3,666.2 469.3,666.2 470.3,669.4" fill="none" stroke="#505050" stroke-width="1"/>
<text x="463.9" y="665.8" font-size="6.3" fill="#3a3a44" text-anchor="start" transform="rotate(-90 463.9 665.8)">34</text>
<path d="M474.0,669.4 C475.0,666.2 481.0,666.2 482.0,669.4" fill="none" stroke="#505050" stroke-width="1"/>
<text x="475.6" y="665.8" font-size="6.3" fill="#3a3a44" text-anchor="start" transform="rotate(-90 475.6 665.8)">35</text>
<path d="M485.7,669.4 C486.7,666.2 492.7,666.2 493.7,669.4" fill="none" stroke="#505050" stroke-width="1"/>
<text x="487.3" y="665.8" font-size="6.3" fill="#3a3a44" text-anchor="start" transform="rotate(-90 487.3 665.8)">36</text>
<path d="M497.4,669.4 C498.4,666.2 504.4,666.2 505.4,669.4" fill="none" stroke="#505050" stroke-width="1"/>
<text x="499.0" y="665.8" font-size="6.3" fill="#3a3a44" text-anchor="start" transform="rotate(-90 499.0 665.8)">37</text>
<path d="M509.1,669.4 C510.1,666.2 516.1,666.2 517.1,669.4" fill="none" stroke="#505050" stroke-width="1"/>
<text x="510.7" y="665.8" font-size="6.3" fill="#3a3a44" text-anchor="start" transform="rotate(-90 510.7 665.8)">38</text>
<path d="M520.9,669.4 C521.9,666.2 527.9,666.2 528.9,669.4" fill="none" stroke="#505050" stroke-width="1"/>
<text x="522.5" y="665.8" font-size="6.3" fill="#3a3a44" text-anchor="start" transform="rotate(-90 522.5 665.8)">39</text>
<path d="M532.6,669.4 C533.6,666.2 539.6,666.2 540.6,669.4" fill="none" stroke="#505050" stroke-width="1"/>
<text x="534.2" y="665.8" font-size="6.3" fill="#3a3a44" text-anchor="start" transform="rotate(-90 534.2 665.8)">40</text>
<path d="M544.3,669.4 C545.3,666.2 551.3,666.2 552.3,669.4" fill="none" stroke="#505050" stroke-width="1"/>
<text x="545.9" y="665.8" font-size="6.3" fill="#3a3a44" text-anchor="start" transform="rotate(-90 545.9 665.8)">41</text>
<path d="M556.0,669.4 C557.0,666.2 563.0,666.2 564.0,669.4" fill="none" stroke="#505050" stroke-width="1"/>
<text x="557.6" y="665.8" font-size="6.3" fill="#3a3a44" text-anchor="start" transform="rotate(-90 557.6 665.8)">42</text>
<path d="M567.7,669.4 C568.7,666.2 574.7,666.2 575.7,669.4" fill="none" stroke="#505050" stroke-width="1"/>
<text x="569.3" y="665.8" font-size="6.3" fill="#3a3a44" text-anchor="start" transform="rotate(-90 569.3 665.8)">43</text>
<path d="M579.5,669.4 C580.5,666.2 586.5,666.2 587.5,669.4" fill="none" stroke="#505050" stroke-width="1"/>
<text x="581.1" y="665.8" font-size="6.3" fill="#3a3a44" text-anchor="start" transform="rotate(-90 581.1 665.8)">44</text>
<path d="M591.2,669.4 C592.2,666.2 598.2,666.2 599.2,669.4" fill="none" stroke="#505050" stroke-width="1"/>
<text x="592.8" y="665.8" font-size="6.3" fill="#3a3a44" text-anchor="start" transform="rotate(-90 592.8 665.8)">45</text>
<path d="M602.9,669.4 C603.9,666.2 609.9,666.2 610.9,669.4" fill="none" stroke="#505050" stroke-width="1"/>
<text x="604.5" y="665.8" font-size="6.3" fill="#3a3a44" text-anchor="start" transform="rotate(-90 604.5 665.8)">46</text>
<path d="M614.6,669.4 C615.6,666.2 621.6,666.2 622.6,669.4" fill="none" stroke="#505050" stroke-width="1"/>
<text x="616.2" y="665.8" font-size="6.3" fill="#3a3a44" text-anchor="start" transform="rotate(-90 616.2 665.8)">47</text>
<text x="370.3" y="757.6" font-size="7" fill="#3a3a44" text-anchor="middle" >FUEL PUMP FLOW CONTROL MODULE</text>
<text x="370.3" y="766.8" font-size="7" fill="#3a3a44" text-anchor="middle" >(LEFT SIDE OF LUGGAGE COMPT)</text>
<circle cx="44.1" cy="678.9" r="1.5" fill="#111"/>
<line x1="39.2" y1="681.3" x2="49.1" y2="681.3" stroke="#333" stroke-width="1" />
<line x1="40.6" y1="683.3" x2="47.7" y2="683.3" stroke="#333" stroke-width="1" />
<line x1="42.5" y1="685.4" x2="46.2" y2="685.4" stroke="#333" stroke-width="1" />
<text x="43.8" y="692.8" font-size="7" fill="#3a3a44" text-anchor="middle" >G402</text>
<text x="43.8" y="701.5" font-size="7" fill="#3a3a44" text-anchor="middle" >(LEFT</text>
<text x="43.8" y="710.3" font-size="7" fill="#3a3a44" text-anchor="middle" >REAR</text>
<text x="43.8" y="719.0" font-size="7" fill="#3a3a44" text-anchor="middle" >SHOCK</text>
<text x="43.8" y="727.8" font-size="7" fill="#3a3a44" text-anchor="middle" >TOWER)</text>
<text x="26.7" y="768.0" font-size="6.8" fill="#3a3a44" text-anchor="start" >333750</text>
<rect x="635.4" y="670.2" width="49.3" height="37.3" fill="#dcdcfc" stroke="#55555f" stroke-width="1.1"/>
<path d="M638.0,670.3 C639.0,667.1 645.0,667.1 646.0,670.3" fill="none" stroke="#505050" stroke-width="1"/>
<path d="M639.0,674.5 L642.0,671.4 L645.0,674.5" fill="none" stroke="#454545" stroke-width="0.9"/>
<path d="M673.0,670.3 C674.0,667.1 680.0,667.1 681.0,670.3" fill="none" stroke="#505050" stroke-width="1"/>
<path d="M674.0,674.5 L677.0,671.4 L680.0,674.5" fill="none" stroke="#454545" stroke-width="0.9"/>
<polyline points="642.0,671.4 642.0,690.0 650.0,690.0" fill="none" stroke="#454545" stroke-width="0.9" />
<polyline points="677.0,671.4 677.0,690.0 668.6,690.0" fill="none" stroke="#454545" stroke-width="0.9" />
<polyline points="650.0,690.0 651.5,687.6 654.6,692.4 657.8,687.6 660.9,692.4 664.0,687.6 667.1,692.4 668.6,690.0" fill="none" stroke="#454545" stroke-width="0.9" />
<line x1="653.6" y1="685.7" x2="667.9" y2="696.4" stroke="#111" stroke-width="0.9" />
<line x1="664.5" y1="695.5" x2="668.0" y2="696.6" stroke="#111" stroke-width="1.2" />
<text x="639.6" y="665.9" font-size="7" fill="#3a3a44" text-anchor="start" transform="rotate(-90 639.6 665.9)">A</text>
<text x="674.6" y="665.9" font-size="7" fill="#3a3a44" text-anchor="start" transform="rotate(-90 674.6 665.9)">B</text>
<text x="639.6" y="653.2" font-size="7" fill="#3a3a44" text-anchor="start" transform="rotate(-90 639.6 653.2)">TAN</text>
<text x="674.6" y="653.2" font-size="7" fill="#3a3a44" text-anchor="start" transform="rotate(-90 674.6 653.2)">YEL</text>
<rect x="706.1" y="670.2" width="48.6" height="37.3" fill="#dcdcfc" stroke="#55555f" stroke-width="1.1"/>
<path d="M708.0,670.3 C709.0,667.1 715.0,667.1 716.0,670.3" fill="none" stroke="#505050" stroke-width="1"/>
<path d="M709.0,674.5 L712.0,671.4 L715.0,674.5" fill="none" stroke="#454545" stroke-width="0.9"/>
<path d="M743.3,670.3 C744.3,667.1 750.3,667.1 751.3,670.3" fill="none" stroke="#505050" stroke-width="1"/>
<path d="M744.3,674.5 L747.3,671.4 L750.3,674.5" fill="none" stroke="#454545" stroke-width="0.9"/>
<polyline points="712.0,671.4 712.0,690.0 719.6,690.0" fill="none" stroke="#454545" stroke-width="0.9" />
<polyline points="747.3,671.4 747.3,690.0 739.6,690.0" fill="none" stroke="#454545" stroke-width="0.9" />
<path d="M719.6,690 a2.5,2.4 0 0 0 5,0 a2.5,2.4 0 0 0 5,0 a2.5,2.4 0 0 0 5,0 a2.5,2.4 0 0 0 5,0" fill="none" stroke="#454545" stroke-width="0.9"/>
<line x1="719.6" y1="695.3" x2="739.6" y2="695.3" stroke="#454545" stroke-width="0.9" />
<line x1="719.6" y1="697.9" x2="739.6" y2="697.9" stroke="#454545" stroke-width="0.9" />
<text x="709.6" y="665.9" font-size="7" fill="#3a3a44" text-anchor="start" transform="rotate(-90 709.6 665.9)">2</text>
<text x="744.9" y="665.9" font-size="7" fill="#3a3a44" text-anchor="start" transform="rotate(-90 744.9 665.9)">1</text>
<rect x="788.0" y="670.2" width="48.5" height="37.3" fill="#dcdcfc" stroke="#55555f" stroke-width="1.1"/>
<path d="M789.8,670.3 C790.8,667.1 796.8,667.1 797.8,670.3" fill="none" stroke="#505050" stroke-width="1"/>
<path d="M790.8,674.5 L793.8,671.4 L796.8,674.5" fill="none" stroke="#454545" stroke-width="0.9"/>
<path d="M825.2,670.3 C826.2,667.1 832.2,667.1 833.2,670.3" fill="none" stroke="#505050" stroke-width="1"/>
<path d="M826.2,674.5 L829.2,671.4 L832.2,674.5" fill="none" stroke="#454545" stroke-width="0.9"/>
<polyline points="793.8,671.4 793.8,690.0 801.5,690.0" fill="none" stroke="#454545" stroke-width="0.9" />
<polyline points="829.2,671.4 829.2,690.0 821.5,690.0" fill="none" stroke="#454545" stroke-width="0.9" />
<path d="M801.5,690 a2.5,2.4 0 0 0 5,0 a2.5,2.4 0 0 0 5,0 a2.5,2.4 0 0 0 5,0 a2.5,2.4 0 0 0 5,0" fill="none" stroke="#454545" stroke-width="0.9"/>
<line x1="801.5" y1="695.3" x2="821.5" y2="695.3" stroke="#454545" stroke-width="0.9" />
<line x1="801.5" y1="697.9" x2="821.5" y2="697.9" stroke="#454545" stroke-width="0.9" />
<text x="791.4" y="665.9" font-size="7" fill="#3a3a44" text-anchor="start" transform="rotate(-90 791.4 665.9)">2</text>
<text x="826.8" y="665.9" font-size="7" fill="#3a3a44" text-anchor="start" transform="rotate(-90 826.8 665.9)">1</text>
<text x="709.6" y="653.2" font-size="7" fill="#3a3a44" text-anchor="start" transform="rotate(-90 709.6 653.2)">DK BLU</text>
<text x="744.9" y="653.2" font-size="7" fill="#3a3a44" text-anchor="start" transform="rotate(-90 744.9 653.2)">ORG/BLK</text>
<text x="791.4" y="653.2" font-size="7" fill="#3a3a44" text-anchor="start" transform="rotate(-90 791.4 653.2)">BRN/WHT</text>
<text x="826.8" y="653.2" font-size="7" fill="#3a3a44" text-anchor="start" transform="rotate(-90 826.8 653.2)">LT GRN</text>
<text x="659.5" y="715.6" font-size="7" fill="#3a3a44" text-anchor="middle" >ENGINE</text>
<text x="659.5" y="724.1" font-size="7" fill="#3a3a44" text-anchor="middle" >COOLANT</text>
<text x="659.5" y="732.6" font-size="7" fill="#3a3a44" text-anchor="middle" >TEMPERATURE</text>
<text x="659.5" y="741.1" font-size="7" fill="#3a3a44" text-anchor="middle" >SENSOR</text>
<text x="659.5" y="749.6" font-size="7" fill="#3a3a44" text-anchor="middle" >(LEFT SIDE</text>
<text x="659.5" y="758.1" font-size="7" fill="#3a3a44" text-anchor="middle" >OF CYLINDER</text>
<text x="659.5" y="766.6" font-size="7" fill="#3a3a44" text-anchor="middle" >HEAD)</text>
<text x="730.0" y="714.8" font-size="7" fill="#3a3a44" text-anchor="middle" >INTAKE BANK 2</text>
<text x="730.0" y="723.6" font-size="7" fill="#3a3a44" text-anchor="middle" >CAMSHAFT</text>
<text x="730.0" y="732.5" font-size="7" fill="#3a3a44" text-anchor="middle" >POSITION (CMP)</text>
<text x="730.0" y="741.3" font-size="7" fill="#3a3a44" text-anchor="middle" >ACTUATOR</text>
<text x="730.0" y="750.2" font-size="7" fill="#3a3a44" text-anchor="middle" >SOLENOID VALVE</text>
<text x="730.0" y="759.0" font-size="7" fill="#3a3a44" text-anchor="middle" >(FRONT OF LEFT</text>
<text x="730.0" y="767.9" font-size="7" fill="#3a3a44" text-anchor="middle" >CYLINDER HEAD)</text>
<text x="811.8" y="714.8" font-size="7" fill="#3a3a44" text-anchor="middle" >EXHAUST BANK 1</text>
<text x="811.8" y="723.6" font-size="7" fill="#3a3a44" text-anchor="middle" >CAMSHAFT</text>
<text x="811.8" y="732.5" font-size="7" fill="#3a3a44" text-anchor="middle" >POSITION (CMP)</text>
<text x="811.8" y="741.3" font-size="7" fill="#3a3a44" text-anchor="middle" >ACTUATOR</text>
<text x="811.8" y="750.2" font-size="7" fill="#3a3a44" text-anchor="middle" >SOLENOID VALVE</text>
<text x="811.8" y="759.0" font-size="7" fill="#3a3a44" text-anchor="middle" >(FRONT OF RIGHT</text>
<text x="811.8" y="767.9" font-size="7" fill="#3a3a44" text-anchor="middle" >CYLINDER HEAD)</text>
<rect x="0" y="61" width="910" height="25" fill="#fff"/>
</svg>
</body></html>
